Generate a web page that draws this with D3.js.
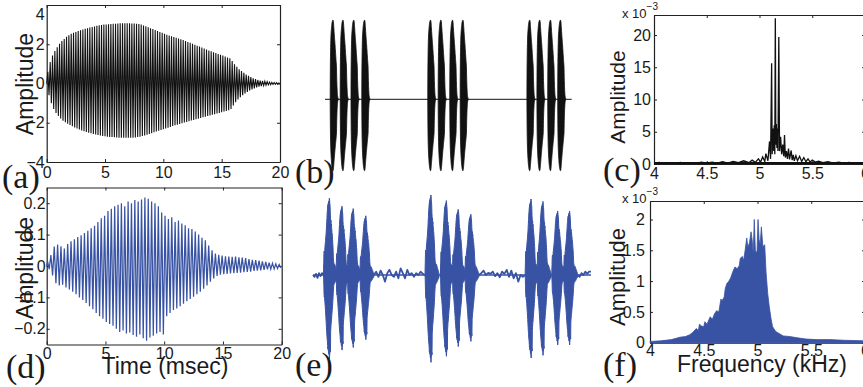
<!DOCTYPE html>
<html>
<head>
<meta charset="utf-8">
<script src="https://cdn.jsdelivr.net/npm/d3@7"></script>
<style>
  body { margin: 0; background: #fff; }
  svg text { font-family: "Liberation Sans", Arial, sans-serif; fill: #1a1a1a; }
  .plab { font-family: "Liberation Serif", "Times New Roman", serif; font-size: 34px; }
  .axis text { font-size: 16px; }
  .axis path, .axis line { stroke: #222; }
</style>
</head>
<body>
<svg id="fig" width="863" height="387"></svg>
<script>
// ---- data ----
const timeTicks = [0, 5, 10, 15, 20];
const ampTicksA = [-4, -2, 0, 2, 4];
const ampTicksD = [-0.2, -0.1, 0, 0.1, 0.2];
const freqTicks = [4, 4.5, 5, 5.5, 6];
const specTicksC = [0, 5, 10, 15, 20];     // x 10^-3
const specTicksF = [0, 0.5, 1, 1.5, 2];    // x 10^-3

// (a) synthetic call, one positive and one negative peak per cycle
const periodA = 0.2; // msec
const peaksAUp = [0.6,1.1,1.43,1.65,1.85,2.02,2.16,2.27,2.38,2.46,
  2.53,2.58,2.63,2.67,2.71,2.75,2.79,2.82,2.85,2.88,
  2.91,2.94,2.97,2.98,3.0,3.01,3.02,3.03,3.04,3.05,
  3.06,3.07,3.07,3.07,3.07,3.07,3.06,3.06,3.04,3.03,
  3.0,2.96,2.92,2.87,2.82,2.78,2.73,2.68,2.63,2.58,
  2.54,2.49,2.45,2.41,2.37,2.33,2.29,2.25,2.21,2.16,
  2.12,2.07,2.02,1.97,1.92,1.88,1.83,1.78,1.73,1.68,
  1.64,1.59,1.55,1.5,1.46,1.42,1.37,1.33,1.28,1.14,
  0.98,0.85,0.73,0.63,0.54,0.46,0.39,0.33,0.27,0.22,
  0.18,0.15,0.13,0.11,0.09,0.07,0.06,0.05,0.04,0.03];
const peaksALo = [-0.6,-1.0,-1.3,-1.5,-1.65,-1.78,-1.9,-1.98,-2.05,-2.12,
  -2.18,-2.24,-2.29,-2.34,-2.39,-2.43,-2.47,-2.51,-2.54,-2.57,
  -2.6,-2.63,-2.65,-2.67,-2.69,-2.71,-2.72,-2.73,-2.74,-2.75,
  -2.76,-2.77,-2.77,-2.77,-2.77,-2.77,-2.76,-2.75,-2.73,-2.71,
  -2.68,-2.65,-2.61,-2.57,-2.53,-2.49,-2.45,-2.41,-2.37,-2.33,
  -2.29,-2.25,-2.21,-2.17,-2.13,-2.1,-2.06,-2.03,-1.99,-1.96,
  -1.92,-1.89,-1.86,-1.82,-1.79,-1.76,-1.72,-1.69,-1.66,-1.63,
  -1.59,-1.56,-1.53,-1.5,-1.46,-1.43,-1.4,-1.36,-1.3,-1.12,
  -0.95,-0.82,-0.7,-0.6,-0.51,-0.43,-0.36,-0.3,-0.25,-0.2,
  -0.16,-0.13,-0.11,-0.09,-0.07,-0.06,-0.05,-0.04,-0.03,-0.02];

// (d) recorded call
const periodD = 20 / 70;
const peaksDUp = [0.015,0.035,0.062,0.068,0.063,0.056,0.07,0.079,0.085,0.092,
  0.098,0.105,0.112,0.12,0.128,0.14,0.152,0.16,0.175,0.182,
  0.19,0.195,0.2,0.19,0.205,0.2,0.21,0.205,0.212,0.218,
  0.214,0.205,0.2,0.19,0.17,0.16,0.15,0.155,0.14,0.145,
  0.135,0.13,0.12,0.118,0.11,0.1,0.09,0.082,0.065,0.05,
  0.04,0.036,0.033,0.031,0.03,0.029,0.03,0.028,0.027,0.025,
  0.022,0.02,0.019,0.017,0.015,0.013,0.011,0.009,0.007,0.005];
const peaksDLo = [-0.01,-0.03,-0.055,-0.062,-0.06,-0.068,-0.075,-0.082,-0.09,-0.1,
  -0.108,-0.118,-0.128,-0.138,-0.15,-0.16,-0.168,-0.178,-0.185,-0.19,
  -0.2,-0.21,-0.205,-0.215,-0.212,-0.22,-0.225,-0.218,-0.23,-0.238,
  -0.228,-0.222,-0.215,-0.21,-0.218,-0.16,-0.15,-0.14,-0.135,-0.128,
  -0.12,-0.112,-0.105,-0.098,-0.09,-0.082,-0.072,-0.062,-0.05,-0.04,
  -0.032,-0.028,-0.026,-0.025,-0.024,-0.023,-0.022,-0.021,-0.02,-0.019,
  -0.018,-0.016,-0.015,-0.014,-0.012,-0.011,-0.01,-0.009,-0.008,-0.006];

// (b) call train: onset of each call (msec)
const lobeStartsB = [13, 38, 65, 92, 257, 283, 312, 338, 505, 530, 557, 582];
// (e) recorded train: onsets (msec) and relative level of each call
const lobeStartsE = [15, 33, 49, 67, 160, 182, 199, 217, 303, 320, 341, 358];
const lobeGainE = [0.96, 0.86, 0.83, 0.74, 1.0, 0.93, 0.82, 0.76, 0.95, 0.92, 0.8, 0.8];
// background noise between calls in (e): [start, end] msec and levels
const noiseSpansE = [[0, 15], [87, 160], [237, 303], [378, 397]];
const noiseE1 = [0, -0.005, 0.003, -0.008, 0.005, -0.003, 0.005, 0];
const noiseE2 = [0, 0.009, -0.005, 0.012, 0, -0.018, 0.005, 0.014, 0, -0.005, 0.009, -0.009,
  0.018, 0.005, -0.009, 0.014, 0, 0.005, -0.005, 0.005, 0, 0.009, 0.003, 0];
const noiseE3 = [0, 0.005, 0.012, 0, 0.006, 0.003, 0.009, -0.003, 0.005, -0.006, 0.009, 0.003,
  0.014, -0.005, 0.012, -0.009, 0.005, -0.018, 0, -0.005, 0];
const noiseE4 = [0, -0.005, 0.005, 0, 0.009, 0.003, 0.009, 0.009];

// (c) spectrum of synthetic call (kHz, x10^-3)
const freqC = [4.0,4.05,4.1,4.15,4.2,4.25,4.3,4.35,4.4,4.45,4.5,4.55,4.6,4.65,4.7,4.75,4.8,4.85,4.9,4.93,
  4.96,4.99,5.01,5.03,5.05,5.06,5.08,5.095,5.105,5.115,5.12,5.13,5.135,5.14,5.145,5.15,5.155,5.16,5.165,5.17,
  5.175,5.183,5.19,5.2,5.21,5.22,5.23,5.237,5.245,5.255,5.265,5.275,5.285,5.3,5.31,5.32,5.33,5.345,5.36,5.38,
  5.4,5.42,5.44,5.46,5.48,5.5,5.53,5.56,5.6,5.65,5.7,5.75,5.8,5.85,5.9,5.95,6.0];
const ampC = [0.1,0.25,0.1,0.2,0.1,0.25,0.1,0.2,0.12,0.3,0.12,0.3,0.15,0.35,0.15,0.4,0.2,0.5,0.2,0.6,
  0.25,0.8,0.3,1.1,0.4,1.6,0.5,3.5,0.8,15.6,1.5,5.5,2,6.0,1.5,22.6,3,6.2,2.5,5.5,
  2,19.7,2,4.2,1.5,3.0,1.2,4.5,1,2.0,0.8,2.4,0.7,2.1,0.6,1.4,0.5,1.3,0.5,1.2,
  0.4,1.0,0.35,0.8,0.3,0.6,0.3,0.45,0.2,0.35,0.15,0.3,0.12,0.25,0.1,0.2,0.1];

// (f) spectrum of recorded call (kHz, x10^-3)
const freqF = [4.0,4.1,4.2,4.28,4.33,4.37,4.4,4.43,4.45,4.46,4.48,4.5,4.51,4.53,4.56,4.58,4.6,4.62,4.64,4.66,
  4.67,4.69,4.7,4.715,4.73,4.75,4.77,4.79,4.81,4.83,4.84,4.86,4.87,4.885,4.9,4.91,4.925,4.94,4.95,4.96,
  4.97,4.98,4.995,5.005,5.015,5.025,5.036,5.05,5.067,5.08,5.095,5.11,5.125,5.14,5.17,5.2,5.24,5.3,5.37,5.45,
  5.55,5.67,5.8,6.0];
const ampF = [0.02,0.03,0.05,0.09,0.1,0.13,0.17,0.23,0.2,0.3,0.27,0.26,0.34,0.3,0.42,0.38,0.47,0.52,0.5,0.71,
  0.68,0.74,0.88,0.96,0.99,1.05,1.15,1.23,1.2,1.25,1.37,1.4,1.33,1.5,1.7,1.55,1.62,1.8,1.67,1.45,
  2.0,1.5,1.45,2.0,1.67,1.6,1.88,1.56,1.59,1.13,0.8,0.58,0.4,0.26,0.18,0.15,0.11,0.1,0.08,0.06,
  0.05,0.05,0.04,0.03];

const black = '#111';
const blue = '#3953a4';

const svg = d3.select('#fig');

// boxed MATLAB style axes with inward ticks
function makeAxes(box, xDom, yDom, xTicks, yTicks, xPad, yPad) {
  const x = d3.scaleLinear().domain(xDom).range([box.x0, box.x1]);
  const y = d3.scaleLinear().domain(yDom).range([box.y1, box.y0]);
  const g = svg.append('g').attr('class', 'axis');
  g.append('g').attr('transform', `translate(0,${box.y1})`)
    .call(d3.axisBottom(x).tickValues(xTicks).tickSizeInner(-3).tickSizeOuter(0).tickPadding(xPad).tickFormat(d3.format('')));
  g.append('g').attr('transform', `translate(0,${box.y0})`)
    .call(d3.axisTop(x).tickValues(xTicks).tickSizeInner(-3).tickSizeOuter(0).tickFormat(''));
  const left = g.append('g').attr('transform', `translate(${box.x0},0)`)
    .call(d3.axisLeft(y).tickValues(yTicks).tickSizeInner(-3).tickSizeOuter(0).tickPadding(yPad).tickFormat(d3.format('')));
  g.append('g').attr('transform', `translate(${box.x1},0)`)
    .call(d3.axisRight(y).tickValues(yTicks).tickSizeInner(-3).tickSizeOuter(0).tickFormat(''));
  g.selectAll('.domain').attr('stroke-width', 1.2);
  g.selectAll('text').attr('fill', '#1a1a1a').style('font-family', '"Liberation Sans", Arial, sans-serif');
  return { x, y, g, left };
}

function yLabel(xb, yc, size, text) {
  svg.append('text').attr('transform', `translate(${xb},${yc}) rotate(-90)`)
    .attr('text-anchor', 'middle').style('font-size', size + 'px').text(text);
}

function panelLabel(x, y, t) {
  svg.append('text').attr('class', 'plab').attr('x', x).attr('y', y).text(t);
}

function exponent(x, y) {
  const t = svg.append('text').attr('x', x).attr('y', y).style('font-size', '13px');
  t.append('tspan').text('x 10');
  t.append('tspan').attr('dy', -8).style('font-size', '10px').text('\u22123');
}

function zigzag(up, lo, period, phaseUp, phaseLo, t0) {
  const pts = [[t0, 0]];
  up.forEach((v, i) => {
    pts.push([t0 + period * (i + phaseUp), v]);
    pts.push([t0 + period * (i + phaseLo), lo[i]]);
  });
  return pts;
}

function envelope(up, lo, period, phaseUp, phaseLo, t0, gain) {
  const top = up.map((v, i) => [t0 + period * (i + phaseUp), v * gain]);
  const bot = lo.map((v, i) => [t0 + period * (i + phaseLo), v * gain]).reverse();
  return [[t0, 0], ...top, [t0 + period * up.length, 0], ...bot];
}

// ---------- (a) ----------
const A = makeAxes({ x0: 46.7, x1: 280, y0: 5, y1: 162 }, [0, 20], [-4, 4], timeTicks, ampTicksA, 5, 2);
// the top label sits just inside the figure edge
A.left.selectAll('.tick text').filter(d => d === 4).attr('dy', '0.9em');
svg.append('path')
  .attr('d', d3.line().x(d => A.x(d[0])).y(d => A.y(d[1]))(zigzag(peaksAUp, peaksALo, periodA, 0.5, 1, 0)))
  .attr('fill', 'none').attr('stroke', black).attr('stroke-width', 1.1);
yLabel(33, 84, 23, 'Amplitude');
panelLabel(2, 188, '(a)');

// ---------- (d) ----------
const D = makeAxes({ x0: 46.7, x1: 281.7, y0: 187.5, y1: 344.5 }, [0, 20], [-0.25, 0.25], timeTicks, ampTicksD, 3, 1);
svg.append('path')
  .attr('d', d3.line().x(d => D.x(d[0])).y(d => D.y(d[1]))(zigzag(peaksDUp, peaksDLo, periodD, 0.25, 0.75, 0)))
  .attr('fill', 'none').attr('stroke', blue).attr('stroke-width', 1.25);
yLabel(33, 268, 23, 'Amplitude');
svg.append('text').attr('x', 165).attr('y', 374).attr('text-anchor', 'middle')
  .style('font-size', '23px').text('Time (msec)');
panelLabel(6, 378, '(d)');

// ---------- (b) ----------
const xB = d3.scaleLinear().domain([0, 617]).range([325, 571.7]);
const yB = d3.scaleLinear().domain([-4, 4]).range([99.3 + 103, 99.3 - 103]);
svg.append('line').attr('x1', xB(0)).attr('x2', xB(617)).attr('y1', yB(0)).attr('y2', yB(0))
  .attr('stroke', black).attr('stroke-width', 1);
const lineB = d3.line().x(d => xB(d[0])).y(d => yB(d[1]));
svg.append('g').selectAll('path').data(lobeStartsB).join('path')
  .attr('d', s => lineB(envelope(peaksAUp, peaksALo, periodA, 0.5, 1, s, 1)) + 'Z')
  .attr('fill', black).attr('stroke', black).attr('stroke-width', 0.8);
panelLabel(295, 183, '(b)');

// ---------- (e) ----------
const xE = d3.scaleLinear().domain([0, 397]).range([313, 591]);
const yE = d3.scaleLinear().domain([-0.25, 0.25]).range([275 + 91.75, 275 - 91.75]);
const lineE = d3.line().x(d => xE(d[0])).y(d => yE(d[1]));
svg.append('line').attr('x1', xE(0)).attr('x2', xE(397)).attr('y1', yE(0)).attr('y2', yE(0))
  .attr('stroke', blue).attr('stroke-width', 1.5);
[noiseE1, noiseE2, noiseE3, noiseE4].forEach((vals, k) => {
  const [a, b] = noiseSpansE[k];
  const pts = vals.map((v, i) => [a + (b - a) * i / (vals.length - 1), v]);
  svg.append('path').attr('d', lineE(pts)).attr('fill', 'none')
    .attr('stroke', blue).attr('stroke-width', 1.8).attr('stroke-linejoin', 'round');
});
svg.append('g').selectAll('path').data(lobeStartsE).join('path')
  .attr('d', (s, i) => lineE(envelope(peaksDUp, peaksDLo, periodD, 0.25, 0.75, s, lobeGainE[i])) + 'Z')
  .attr('fill', blue).attr('stroke', blue).attr('stroke-width', 1);
panelLabel(295, 376, '(e)');

// ---------- (c) ----------
const C = makeAxes({ x0: 654, x1: 865, y0: 15, y1: 164 }, [4, 6], [0, 23.1], freqTicks, specTicksC, 4, 3);
svg.append('path')
  .attr('d', d3.line().x(d => C.x(d)).y((d, i) => C.y(ampC[i]))(freqC))
  .attr('fill', 'none').attr('stroke', black).attr('stroke-width', 1.3);
svg.append('line').attr('x1', C.x(4)).attr('x2', C.x(6)).attr('y1', C.y(0.15)).attr('y2', C.y(0.15))
  .attr('stroke', black).attr('stroke-width', 2.2);
yLabel(625, 97, 21, 'Amplitude');
exponent(622, 18);
panelLabel(603, 181, '(c)');

// ---------- (f) ----------
const F = makeAxes({ x0: 650, x1: 865, y0: 201, y1: 342.7 }, [4, 6], [0, 2.3], freqTicks, specTicksF, 2, 5);
const areaF = d3.area().x(d => F.x(d)).y0(F.y(0)).y1((d, i) => F.y(ampF[i]));
svg.append('path').attr('d', areaF(freqF)).attr('fill', blue).attr('stroke', blue).attr('stroke-width', 0.8);
yLabel(625, 277, 22, 'Amplitude');
svg.append('text').attr('x', 762).attr('y', 372).attr('text-anchor', 'middle')
  .style('font-size', '23px').text('Frequency (kHz)');
exponent(622, 203);
panelLabel(603, 376, '(f)');
</script>
</body>
</html>
